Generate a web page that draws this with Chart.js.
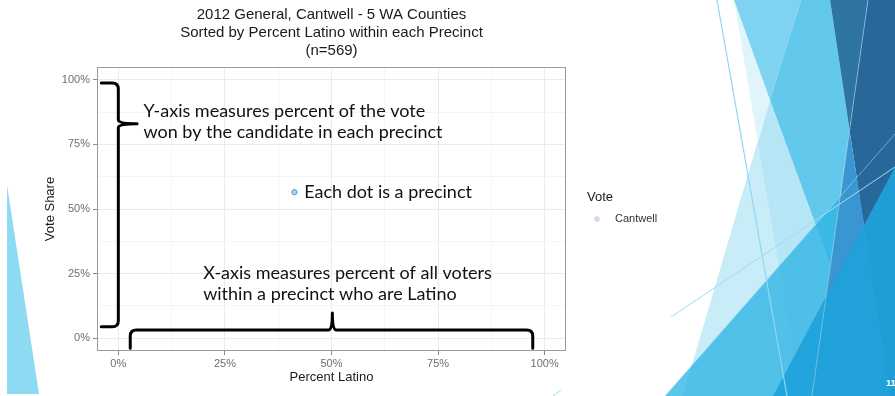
<!DOCTYPE html>
<html>
<head>
<meta charset="utf-8">
<script src="https://cdn.jsdelivr.net/npm/chart.js@4.4.1/dist/chart.umd.min.js"></script>
<style>
  html, body { margin: 0; padding: 0; background: #fff; }
  #slide { position: relative; width: 895px; height: 396px; overflow: hidden; }
  #slide svg, #slide canvas { position: absolute; left: 0; top: 0; }
</style>
</head>
<body>
<div id="slide">
  <!-- slide theme decoration -->
  <svg width="895" height="396" viewBox="0 0 895 396">
    <polygon points="7,185 7,394 39,394" fill="#8edaf3"/>
    <polygon points="770,100 878,396 683,396" fill="#b6e5f6"/>
    <polygon points="758,143 683,396 801,396" fill="#c9ecf9"/>
    <polygon points="734,0 770,100 758,143" fill="#e0f4fb"/>
    <polygon points="734,0 801,0 770,100" fill="#7fd3f0"/>
    <polygon points="801,0 830,0 849.5,130 830,264 770,100" fill="#62c8ec"/>
    <polygon points="665,396 895,134 895,396" fill="#2fb5e6" fill-opacity="0.78"/>
    <polygon points="830,0 868,0 849.5,130" fill="#2e75a4"/>
    <polygon points="868,0 895,0 895,396 890,396 849.5,130" fill="#27679a"/>
    <polygon points="849.5,130 890,396 812,396" fill="#3a96d0"/>
    <polygon points="895,167 773,396 895,396" fill="#1ea2da" fill-opacity="0.92"/>
    <line x1="717" y1="0" x2="787" y2="396" stroke="#8fd8f2" stroke-width="1.2"/>
    <line x1="671" y1="317" x2="895" y2="167" stroke="#9fdcf3" stroke-width="1"/>
    <line x1="665" y1="396" x2="895" y2="134" stroke="#a8def3" stroke-width="0.8" stroke-opacity="0.7"/>
    <line x1="553" y1="396" x2="561" y2="390" stroke="#9fdcf3" stroke-width="1"/>
    <line x1="868" y1="0" x2="812" y2="396" stroke="#a8d4ee" stroke-width="0.8" stroke-opacity="0.7"/>
    <text x="886" y="386" fill="#ffffff" font-family="Liberation Sans" font-weight="bold" font-size="9">11</text>
  </svg>
  <canvas id="voteChart" width="895" height="396"></canvas>
</div>
<script>
// precinct-level result (percent Latino vs. Cantwell vote share)
const precinctLatino = [41.3];
const cantwellShare = [56.5];

const majorTicks = [0, 25, 50, 75, 100];
const gridTicks = [0, 12.5, 25, 37.5, 50, 62.5, 75, 87.5, 100];

const titleLines = [
    '2012 General, Cantwell - 5 WA Counties',
    'Sorted by Percent Latino within each Precinct',
    '(n=569)'
];

// explanatory notes, anchored in data units
const notes = [
    { x: 5.9, y: 88.0, lines: ['Y-axis measures percent of the vote', 'won by the candidate in each precinct'] },
    { x: 43.6, y: 56.6, lines: ['Each dot is a precinct'] },
    { x: 19.9, y: 25.2, lines: ['X-axis measures percent of all voters', 'within a precinct who are Latino'] }
];

// curly braces: along-axis start/mid/end, and end/spine/tip offsets across
const braces = [
    { axis: 'y', from: 98.8, mid: 83.0, to: 4.4, end: -4, spine: 0, tip: 4.4 },
    { axis: 'x', from: 2.8, mid: 50.2, to: 97.2, end: -3.9, spine: 3.1, tip: 9.7 }
];

const isMajor = v => majorTicks.includes(v);

function drawBrace(ctx, chart, b) {
    const xs = chart.scales.x, ys = chart.scales.y;
    const along = b.axis === 'y' ? ys : xs;
    const across = b.axis === 'y' ? xs : ys;
    const pt = (s, n) => b.axis === 'y' ? [n, s] : [s, n];

    const s0 = along.getPixelForValue(b.from);
    const sm = along.getPixelForValue(b.mid);
    const s1 = along.getPixelForValue(b.to);
    const ne = across.getPixelForValue(b.end);
    const ns = across.getPixelForValue(b.spine);
    const nt = across.getPixelForValue(b.tip);
    const dir = Math.sign(s1 - s0);
    const side = Math.sign(ns - ne);
    const r = 6, rt = 4;

    ctx.beginPath();
    ctx.moveTo(...pt(s0, ne));
    ctx.lineTo(...pt(s0, ns - side * r));
    ctx.quadraticCurveTo(...pt(s0, ns), ...pt(s0 + dir * r, ns));
    ctx.lineTo(...pt(sm - dir * rt, ns));
    ctx.quadraticCurveTo(...pt(sm, ns), ...pt(sm, nt));
    ctx.quadraticCurveTo(...pt(sm, ns), ...pt(sm + dir * rt, ns));
    ctx.lineTo(...pt(s1 - dir * r, ns));
    ctx.quadraticCurveTo(...pt(s1, ns), ...pt(s1, ns - side * r));
    ctx.lineTo(...pt(s1, ne));
    ctx.stroke();
}

const overlayPlugin = {
    id: 'overlay',
    afterDraw(chart) {
        const { ctx, chartArea: a } = chart;
        const xs = chart.scales.x, ys = chart.scales.y;
        ctx.save();

        // panel border
        ctx.strokeStyle = '#9a9a9a';
        ctx.lineWidth = 1;
        ctx.strokeRect(a.left + 0.5, a.top + 0.5, a.right - a.left - 1, a.bottom - a.top - 1);

        // braces
        ctx.strokeStyle = '#000';
        ctx.lineWidth = 3;
        ctx.lineCap = 'round';
        ctx.lineJoin = 'round';
        braces.forEach(b => drawBrace(ctx, chart, b));

        // notes
        ctx.fillStyle = '#111';
        ctx.font = '18px Lato';
        ctx.textAlign = 'left';
        ctx.textBaseline = 'middle';
        notes.forEach(n => {
            const x = xs.getPixelForValue(n.x);
            const y = ys.getPixelForValue(n.y);
            n.lines.forEach((t, i) => ctx.fillText(t, x, y + i * 21));
        });

        // legend
        const ds = chart.data.datasets[0];
        const lx = a.right + 21;
        ctx.fillStyle = '#1a1a1a';
        ctx.font = '13px "Liberation Sans"';
        ctx.fillText('Vote', lx, 197);
        ctx.beginPath();
        ctx.arc(lx + 10, 219, 2.7, 0, Math.PI * 2);
        ctx.fillStyle = '#c9dcee';
        ctx.fill();
        ctx.fillStyle = '#333';
        ctx.font = '11px "Liberation Sans"';
        ctx.fillText(ds.label, lx + 28, 219);
        ctx.restore();
    }
};

const ctx = document.getElementById('voteChart').getContext('2d');

new Chart(ctx, {
    type: 'scatter',
    data: {
        datasets: [{
            label: 'Cantwell',
            data: precinctLatino.map((x, i) => ({ x: x, y: cantwellShare[i] })),
            pointRadius: 2.6,
            pointBackgroundColor: '#a9d3ee',
            pointBorderColor: '#4f97c9',
            pointBorderWidth: 1
        }]
    },
    options: {
        responsive: false,
        animation: false,
        devicePixelRatio: 1,
        layout: { padding: { left: 0, top: 0, right: 329, bottom: 0 } },
        plugins: {
            legend: { display: false },
            tooltip: { enabled: false },
            title: {
                display: true,
                fullSize: false,
                text: titleLines,
                color: '#1a1a1a',
                font: { family: 'Liberation Sans', size: 15, weight: 'normal', lineHeight: 1.2 },
                padding: { top: 6, bottom: 7 }
            }
        },
        scales: {
            x: {
                type: 'linear',
                min: -5,
                max: 105,
                afterBuildTicks: s => { s.ticks = gridTicks.map(v => ({ value: v })); },
                afterFit: s => { s.height = 45; },
                border: { display: false },
                grid: {
                    color: c => isMajor(c.tick.value) ? '#ebebeb' : '#f4f4f4',
                    tickColor: c => isMajor(c.tick.value) ? '#8a8a8a' : 'rgba(0,0,0,0)',
                    tickLength: 4
                },
                ticks: {
                    autoSkip: false,
                    maxRotation: 0,
                    padding: 2,
                    color: '#6e6e6e',
                    font: { family: 'Liberation Sans', size: 11 },
                    callback: v => isMajor(v) ? v + '%' : ''
                },
                title: {
                    display: true,
                    text: 'Percent Latino',
                    color: '#1a1a1a',
                    font: { family: 'Liberation Sans', size: 13 },
                    padding: { top: 0, bottom: 11 }
                }
            },
            y: {
                type: 'linear',
                min: -5,
                max: 105,
                afterBuildTicks: s => { s.ticks = gridTicks.map(v => ({ value: v })); },
                afterFit: s => { s.width = 97; },
                border: { display: false },
                grid: {
                    color: c => isMajor(c.tick.value) ? '#ebebeb' : '#f4f4f4',
                    tickColor: c => isMajor(c.tick.value) ? '#8a8a8a' : 'rgba(0,0,0,0)',
                    tickLength: 4
                },
                ticks: {
                    autoSkip: false,
                    padding: 3,
                    color: '#6e6e6e',
                    font: { family: 'Liberation Sans', size: 11 },
                    callback: v => isMajor(v) ? v + '%' : ''
                },
                title: {
                    display: true,
                    text: 'Vote Share',
                    color: '#1a1a1a',
                    font: { family: 'Liberation Sans', size: 13 },
                    padding: { top: 43, bottom: 0 }
                }
            }
        }
    },
    plugins: [overlayPlugin]
});
</script>
</body>
</html>
